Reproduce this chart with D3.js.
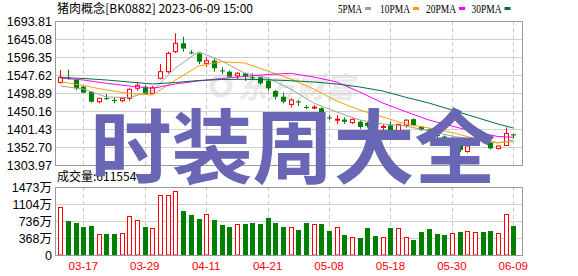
<!DOCTYPE html>
<html><head><meta charset="utf-8">
<script src="https://cdn.jsdelivr.net/npm/d3@7/dist/d3.min.js"></script>
<style>body{margin:0;background:#fff}svg{display:block}</style>
</head><body><svg id="c" width="578" height="276"></svg>
<script>
// ---------- data ----------
const dates = ["03-14","03-15","03-16","03-17","03-20","03-21","03-22","03-23","03-24","03-27","03-28","03-29","03-30","03-31",
  "04-03","04-04","04-06","04-07","04-10","04-11","04-12","04-13","04-14","04-17","04-18","04-19","04-20","04-21",
  "04-24","04-25","04-26","04-27","04-28","05-04","05-05","05-08","05-09","05-10","05-11","05-12","05-15","05-16","05-17","05-18",
  "05-19","05-22","05-23","05-24","05-25","05-26","05-29","05-30","05-31","06-01","06-02","06-05","06-06","06-07","06-08","06-09"];
const open  = [1526.8,1540.0,1534.1,1516.0,1502.4,1475.3,1485.0,1480.0,1478.0,1484.5,1511.6,1516.0,1498.0,1538.7,1556.6,
  1610.7,1633.6,1609.0,1606.0,1579.3,1586.4,1560.0,1556.6,1545.4,1552.0,1541.5,1541.0,1532.0,1504.3,1488.9,
  1467.9,1476.0,1461.0,1459.5,1457.6,1433.0,1427.0,1427.0,1418.5,1421.0,1418.0,1409.0,1407.0,1411.4,1397.0,
  1411.4,1428.0,1407.7,1400.0,1385.0,1381.0,1370.0,1355.4,1340.5,1369.0,1370.0,1364.6,1348.5,1356.8,1387.0];
const high  = [1561.2,1562.0,1536.8,1517.8,1503.5,1485.0,1496.0,1487.0,1488.0,1511.6,1529.0,1520.0,1518.0,1577.4,1610.7,
  1660.5,1651.3,1615.0,1608.0,1595.5,1592.7,1568.5,1560.0,1555.0,1554.0,1552.0,1543.0,1538.7,1507.0,1499.7,
  1484.5,1480.0,1466.0,1466.0,1460.0,1439.0,1439.0,1433.0,1430.0,1425.0,1420.0,1414.0,1414.0,1422.0,1415.6,
  1427.6,1430.0,1409.0,1403.0,1390.0,1384.0,1380.0,1357.0,1358.0,1375.0,1374.0,1367.0,1357.0,1405.5,1388.0];
const low   = [1525.0,1535.0,1507.0,1498.9,1473.0,1471.0,1480.0,1471.0,1474.0,1478.0,1505.0,1495.0,1496.0,1536.0,1552.0,
  1607.0,1610.7,1604.0,1577.0,1570.0,1556.6,1550.0,1540.0,1536.0,1532.0,1536.0,1521.0,1505.0,1481.0,1470.6,
  1460.0,1464.0,1455.0,1455.0,1434.7,1426.0,1415.0,1415.0,1415.0,1402.0,1405.0,1400.0,1397.0,1395.0,1395.0,
  1405.0,1410.0,1396.0,1390.0,1378.0,1372.0,1365.0,1339.0,1337.0,1360.0,1362.0,1346.0,1346.0,1355.4,1376.0];
const close = [1541.4,1537.0,1511.6,1499.7,1475.3,1484.5,1484.0,1479.0,1484.5,1508.9,1519.7,1496.2,1513.3,1556.6,1606.4,
  1633.4,1619.2,1608.0,1583.6,1586.4,1565.8,1559.0,1543.0,1552.5,1543.0,1540.5,1525.0,1511.6,1488.9,1475.3,
  1480.0,1475.0,1460.0,1460.5,1439.3,1432.0,1428.0,1421.0,1427.6,1407.0,1410.0,1408.0,1408.5,1398.0,1414.0,
  1425.3,1411.0,1398.6,1395.0,1383.0,1376.0,1374.0,1344.6,1355.4,1371.0,1366.0,1349.0,1355.4,1389.3,1384.0];
const volume = [1033,736,693,606,628,448,448,448,470,838,751,606,578,1293,1293,1380,953,859,780,881,758,650,606,671,671,
  693,671,801,693,606,606,541,693,671,671,520,606,433,390,368,585,411,397,578,578,397,325,491,556,448,426,470,498,513,498,
  498,520,470,888,628];
// moving averages at these candle indices
const maIdx = [0,3,6,9,12,15,18,21,24,27,30,33,36,39,42,45,48,51,54,57,59];
const ma5  = [1517.8,1509.7,1488.1,1486.7,1504.3,1566.6,1610.7,1585.5,1553.0,1539.5,1509.7,1471.8,1447.5,1425.8,1415.0,1409.6,1396.0,1382.5,1371.7,1363.5,1371.7];
const ma10 = [1529.5,1519.2,1507.0,1497.5,1493.5,1534.1,1572.0,1583.6,1580.1,1558.5,1536.8,1509.7,1477.2,1452.9,1433.9,1415.0,1404.1,1392.0,1375.7,1364.9,1367.1];
const ma20 = [1539.5,1534.1,1525.2,1517.8,1511.6,1523.3,1531.4,1538.2,1543.6,1549.0,1552.2,1542.2,1528.7,1501.6,1471.8,1448.3,1425.8,1409.6,1393.3,1381.1,1379.0];
const ma30 = [1540.9,1538.2,1534.1,1528.7,1523.3,1527.3,1532.7,1535.4,1536.0,1534.6,1532.2,1528.7,1523.3,1515.1,1504.3,1487.3,1471.8,1452.9,1433.9,1415.0,1404.1];
const priceTicks = [1693.81,1645.08,1596.35,1547.62,1498.89,1450.16,1401.43,1352.70,1303.97];
const volTicks = [0,368,736,1104,1473];
const volTickLabels = ["0","368万","736万","1104万","1473万"];
const dateTicks = ["03-17","03-29","04-11","04-21","05-08","05-18","05-30","06-09"];
const maNames = ["5PMA","10PMA","20PMA","30PMA"];
const titleText = "猪肉概念[BK0882] 2023-06-09 15:00";
const volLabel = "成交量:611554";
const brandText = "东方财富";
const watermark = "时装周大全";

// ---------- layout ----------
const L = 55.5, R = 522.5, PT = 21, PB = 165, VT = 187, VB = 255;
const RED = "#ff0000", GREEN = "#008000";
const maColors = ["#a0a0a0", "#f5a200", "#ff00ff", "#00703a"];

const svg = d3.select("#c");
svg.append("rect").attr("width", 578).attr("height", 276).attr("fill", "#fff");

const x = d3.scalePoint().domain(dates).range([60.3, 513.3]);
const y = d3.scaleLinear().domain([priceTicks[8], priceTicks[0]]).range([PB, PT]);
const yv = d3.scaleLinear().domain([0, 1473]).range([VB, VT]);
const px = d => Math.round(x(d));

// faint brand watermark
const brand = svg.append("g").attr("fill", "#e9e9e9");
brand.append("circle").attr("cx", 221).attr("cy", 86).attr("r", 9)
  .attr("fill", "none").attr("stroke", "#e9e9e9").attr("stroke-width", 5);
brand.append("text").attr("x", 238).attr("y", 98).attr("font-size", 29).attr("font-weight", "bold")
  .attr("font-family", "Noto Sans CJK SC").attr("font-style", "italic").text(brandText);

// horizontal grid
svg.append("g").selectAll("line").data(priceTicks).join("line")
  .attr("x1", L).attr("x2", R).attr("y1", d => Math.round(y(d)) + 0.5).attr("y2", d => Math.round(y(d)) + 0.5)
  .attr("stroke", "#d0d0d0");
svg.append("g").selectAll("line").data(volTicks).join("line")
  .attr("x1", L).attr("x2", R).attr("y1", d => Math.round(yv(d)) + 0.5).attr("y2", d => Math.round(yv(d)) + 0.5)
  .attr("stroke", "#d0d0d0");
// vertical dashed grid
const vg = svg.append("g").attr("stroke", "#c8c8c8").attr("stroke-dasharray", "4,3");
vg.selectAll(".a").data(dateTicks).join("line").attr("class", "a")
  .attr("x1", d => px(d) + 0.5).attr("x2", d => px(d) + 0.5).attr("y1", PT).attr("y2", PB);
vg.selectAll(".b").data(dateTicks).join("line").attr("class", "b")
  .attr("x1", d => px(d) + 0.5).attr("x2", d => px(d) + 0.5).attr("y1", VT).attr("y2", VB);

// candles
const rows = dates.map((d, i) => ({d, o: open[i], h: high[i], l: low[i], c: close[i], v: volume[i], up: close[i] >= open[i]}));
const cg = svg.append("g");
cg.selectAll("line").data(rows).join("line")
  .attr("x1", r => px(r.d) + 0.5).attr("x2", r => px(r.d) + 0.5)
  .attr("y1", r => y(r.h)).attr("y2", r => y(r.l))
  .attr("stroke", r => r.up ? RED : GREEN);
cg.selectAll("rect").data(rows).join("rect")
  .attr("x", r => r.up ? px(r.d) - 1.5 : px(r.d) - 2)
  .attr("width", r => r.up ? 4 : 5)
  .attr("y", r => Math.min(y(r.o), y(r.c)))
  .attr("height", r => Math.max(1, Math.abs(y(r.o) - y(r.c))))
  .attr("fill", r => r.up ? "#fff" : GREEN)
  .attr("stroke", r => r.up ? RED : "none");

// moving average lines
const line = d3.line().x(i => x(dates[i])).y((i, k, arr) => 0);
[ma5, ma10, ma20, ma30].forEach((arr, j) => {
  const pts = maIdx.map((idx, k) => [x(dates[idx]), y(arr[k])]);
  svg.append("path").attr("d", d3.line()(pts)).attr("fill", "none")
    .attr("stroke", maColors[j]).attr("stroke-width", 1);
});

// volume bars
const vb = svg.append("g");
vb.selectAll("rect").data(rows).join("rect")
  .attr("x", r => r.up ? px(r.d) - 1.5 : px(r.d) - 2)
  .attr("width", r => r.up ? 4 : 5)
  .attr("y", r => Math.round(yv(r.v)) + (r.up ? 0.5 : 0))
  .attr("height", r => VB - Math.round(yv(r.v)) - (r.up ? 0.5 : 0))
  .attr("fill", r => r.up ? "#fff" : GREEN)
  .attr("stroke", r => r.up ? RED : "none");

// frames
svg.append("rect").attr("x", L).attr("y", PT + 0.5).attr("width", R - L).attr("height", PB - PT)
  .attr("fill", "none").attr("stroke", "#9a9a9a");
svg.append("rect").attr("x", L).attr("y", VT + 0.5).attr("width", R - L).attr("height", VB - VT)
  .attr("fill", "none").attr("stroke", "#9a9a9a");

// axis labels
const font = "Liberation Sans, Arial, sans-serif";
svg.append("g").selectAll("text").data(priceTicks).join("text")
  .attr("x", 52).attr("y", d => y(d)).attr("dy", "0.36em").attr("text-anchor", "end")
  .attr("font-family", font).attr("font-size", 12.5).attr("fill", "#000")
  .text(d => d.toFixed(2));
svg.append("g").selectAll("text").data(volTicks).join("text")
  .attr("x", 52).attr("y", d => yv(d)).attr("dy", "0.36em").attr("text-anchor", "end")
  .attr("font-family", "Liberation Sans, Noto Sans CJK SC").attr("font-size", 12.5).attr("fill", "#000")
  .text((d, i) => volTickLabels[i]);
svg.append("g").selectAll("text").data(dateTicks).join("text")
  .attr("x", d => x(d)).attr("y", 270).attr("text-anchor", "middle")
  .attr("font-family", font).attr("font-size", 11.5).attr("fill", RED)
  .text(d => d);

// title
svg.append("text").attr("x", 57).attr("y", 13).attr("font-family", "Noto Sans CJK SC")
  .attr("font-size", 12).attr("fill", "#000").attr("textLength", 196).attr("lengthAdjust", "spacingAndGlyphs")
  .text(titleText);

// legend
const legX = [338, 380, 426, 471.5], legW = [24, 30, 30, 30];
const lg = svg.append("g");
maNames.forEach((n, i) => {
  lg.append("text").attr("x", legX[i]).attr("y", 12.5).attr("font-family", "Liberation Serif, serif")
    .attr("font-size", 11.5).attr("fill", "#000").attr("textLength", legW[i]).attr("lengthAdjust", "spacingAndGlyphs").text(n);
  lg.append("rect").attr("x", legX[i] + legW[i] + 3).attr("y", 7).attr("width", 6).attr("height", 3).attr("fill", maColors[i]);
});

// volume label
svg.append("text").attr("x", 57).attr("y", 181).attr("font-family", "Noto Sans CJK SC")
  .attr("font-size", 12).attr("fill", "#000").text(volLabel);

// big overlay watermark
svg.append("text").attr("x", 293).attr("y", 177).attr("text-anchor", "middle")
  .attr("font-family", "Noto Sans CJK SC").attr("font-weight", "bold").attr("font-size", 81)
  .attr("fill", "#6866b5").text(watermark);
</script></body></html>
